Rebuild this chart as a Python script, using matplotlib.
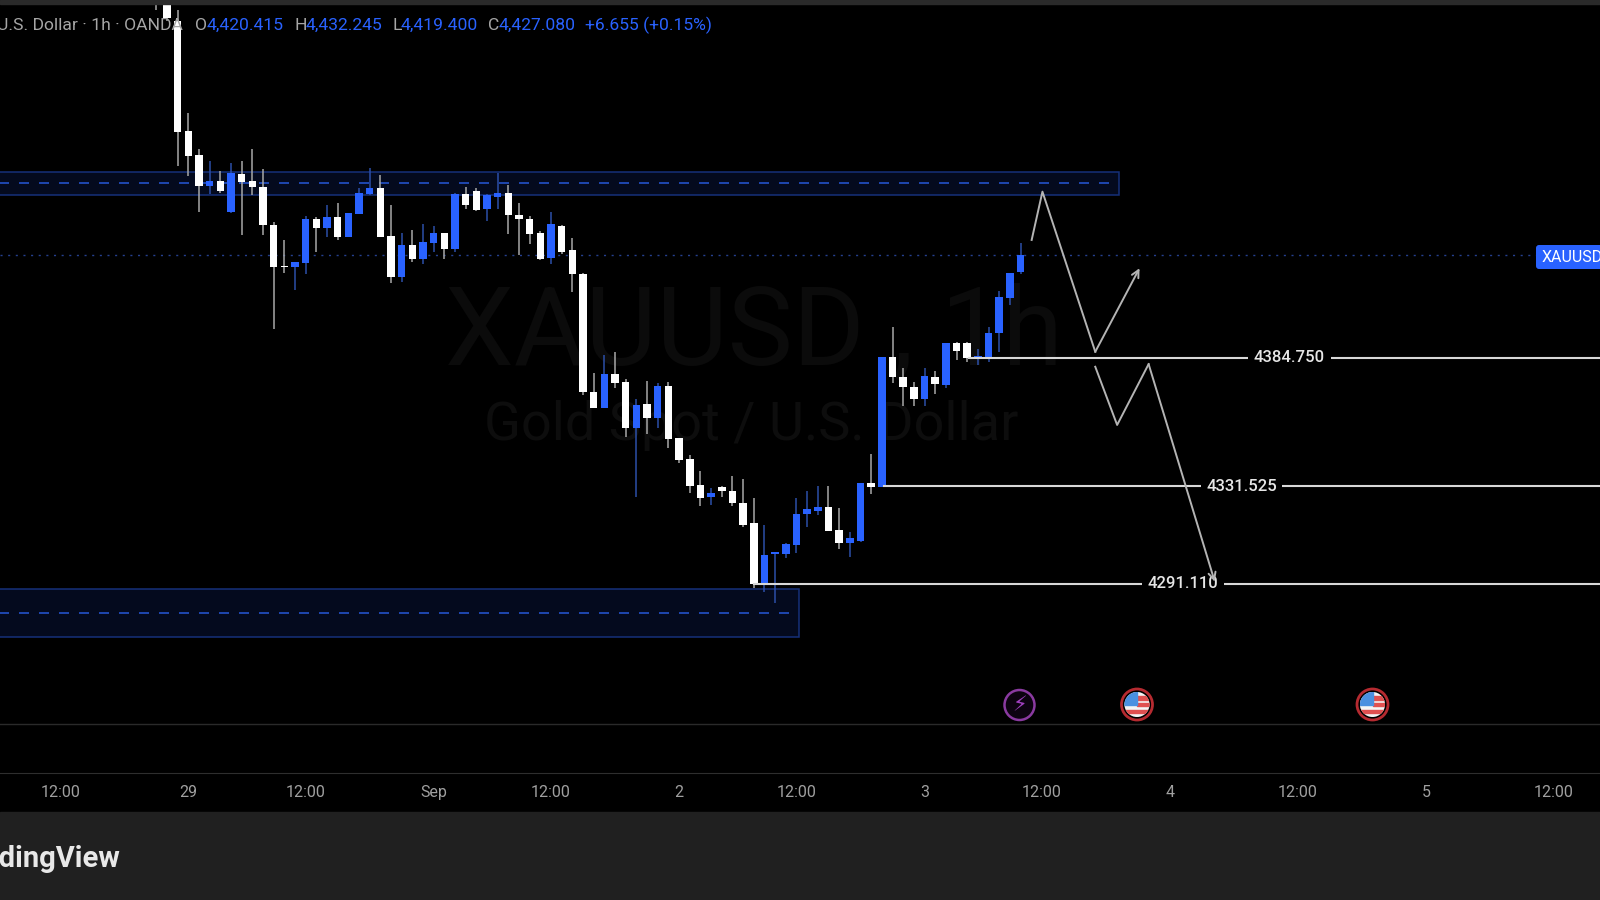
import matplotlib
matplotlib.use('Agg')
import matplotlib.pyplot as plt
from matplotlib.patches import Circle, FancyBboxPatch, Rectangle

plt.rcParams['font.family'] = ['Roboto', 'DejaVu Sans']

# hourly candles, first bar is index -3
opens = [4540.0, 4545.0, 4524.2, 4478.6, 4468.7, 4455.8, 4457.9, 4445.1, 4460.8, 4457.9, 4455.4, 4439.7,
         4422.7, 4422.3, 4424.0, 4442.2, 4438.5, 4443.0, 4434.7, 4444.3, 4452.5, 4455.0, 4435.1, 4418.2,
         4431.4, 4425.6, 4432.3, 4436.4, 4429.8, 4452.5, 4453.8, 4446.3, 4451.3, 4453.0, 4443.8, 4442.2,
         4436.4, 4426.0, 4439.3, 4429.3, 4419.4, 4370.5, 4363.9, 4378.0, 4374.7, 4355.6, 4365.6, 4359.8,
         4373.0, 4351.5, 4342.8, 4332.0, 4327.1, 4331.2, 4329.5, 4324.6, 4316.3, 4291.1, 4303.5, 4303.5,
         4307.2, 4320.0, 4321.3, 4322.9, 4313.4, 4308.0, 4308.9, 4332.9, 4331.2, 4385.0, 4376.8, 4372.6,
         4367.6, 4376.8, 4373.5, 4390.8, 4390.8, 4384.6, 4384.6, 4395.0, 4409.5, 4420.415]
highs = [4545.0, 4548.0, 4528.7, 4486.1, 4471.2, 4466.2, 4462.1, 4465.4, 4466.2, 4471.2, 4462.9, 4440.9,
         4433.5, 4424.4, 4443.4, 4443.0, 4448.0, 4448.8, 4444.7, 4455.0, 4463.3, 4460.4, 4448.0, 4436.4,
         4437.6, 4440.1, 4439.3, 4436.4, 4453.0, 4455.4, 4455.0, 4452.5, 4461.2, 4456.3, 4448.8, 4443.4,
         4437.2, 4445.1, 4439.7, 4434.3, 4419.8, 4378.4, 4385.9, 4387.1, 4375.9, 4367.6, 4375.1, 4374.3,
         4374.7, 4351.5, 4344.5, 4337.8, 4330.8, 4331.6, 4335.8, 4334.5, 4326.7, 4315.5, 4304.3, 4308.0,
         4326.7, 4329.5, 4331.6, 4331.6, 4322.5, 4312.6, 4332.9, 4344.9, 4385.0, 4397.5, 4380.5, 4374.7,
         4380.5, 4379.2, 4390.8, 4391.2, 4391.2, 4388.4, 4397.5, 4412.4, 4419.8, 4432.245]
lows = [4528.7, 4524.2, 4464.1, 4460.0, 4445.1, 4452.5, 4453.0, 4444.8, 4435.6, 4452.1, 4435.6, 4396.6,
        4419.8, 4412.8, 4419.4, 4428.5, 4434.7, 4433.5, 4434.7, 4444.3, 4452.1, 4434.7, 4415.7, 4416.1,
        4424.4, 4423.5, 4428.5, 4425.6, 4428.5, 4446.3, 4445.5, 4441.4, 4446.3, 4436.0, 4427.3, 4431.8,
        4425.2, 4423.5, 4427.7, 4412.0, 4369.3, 4363.9, 4363.9, 4372.2, 4351.9, 4327.1, 4353.2, 4355.6,
        4347.4, 4341.2, 4328.7, 4323.3, 4323.8, 4327.1, 4323.3, 4314.6, 4289.4, 4287.7, 4283.2, 4301.8,
        4303.9, 4314.6, 4319.6, 4313.0, 4305.5, 4302.2, 4308.4, 4328.3, 4331.2, 4374.3, 4364.8, 4364.8,
        4364.8, 4369.7, 4372.2, 4383.8, 4383.0, 4381.7, 4383.0, 4387.1, 4406.6, 4419.4]
closes = [4532.0, 4525.4, 4478.2, 4468.3, 4455.8, 4457.9, 4453.8, 4461.2, 4457.5, 4455.4, 4439.7, 4422.3,
          4422.1, 4424.4, 4442.2, 4438.5, 4443.0, 4434.7, 4444.7, 4453.0, 4455.0, 4434.7, 4418.2, 4431.4,
          4425.6, 4432.7, 4436.4, 4429.8, 4452.5, 4448.0, 4445.9, 4452.1, 4453.0, 4443.8, 4442.2, 4436.0,
          4425.6, 4440.1, 4428.5, 4419.4, 4370.5, 4363.9, 4378.0, 4374.3, 4355.6, 4365.2, 4359.8, 4373.0,
          4351.1, 4342.4, 4331.6, 4326.7, 4328.7, 4329.5, 4324.6, 4315.5, 4291.1, 4303.1, 4304.3, 4307.6,
          4320.0, 4322.1, 4322.9, 4313.0, 4308.0, 4310.1, 4332.9, 4331.2, 4385.0, 4376.8, 4372.6, 4367.6,
          4377.2, 4373.9, 4390.8, 4387.5, 4384.6, 4385.5, 4395.0, 4409.9, 4419.8, 4427.08]
first_bar = -3

tick_pos = [-12, 0, 11, 23, 34, 46, 57, 69, 80, 92, 104, 116, 128]
tick_labels = ['12:00', '29', '12:00', 'Sep', '12:00', '2', '12:00', '3', '12:00', '4', '12:00', '5', '12:00']

levels = [4384.750, 4331.525, 4291.110]
level_starts = [73.2, 65.2, 53.0]
level_label_x = [103.2, 98.7, 93.2]

last_price = 4427.08
top_zone = (4452.1, 4461.6, 4457.1, 87.2)
low_zone = (4269.1, 4289.0, 4279.1, 57.2)

path_up = ([79.04, 80.05, 85.0, 89.15], [4433.5, 4453.5, 4387.2, 4421.8])
path_down = ([85.0, 87.05, 90.0, 96.2], [4381.0, 4356.9, 4382.1, 4292.0])

BLUE = '#2962ff'
fig = plt.figure(figsize=(16, 9), dpi=100, facecolor='black')
ax = fig.add_axes([0, 127.5 / 900, 1, 768.5 / 900], facecolor='black')
ax.set_xlim(-17.64, 132.3)
ax.set_ylim(4213.0, 4531.2)

# zones
for low, high, mid, end in [top_zone, low_zone]:
    ax.add_patch(Rectangle((-20, low), end + 20, high - low, facecolor='#040a1e', edgecolor='#15307a', lw=1.1, zorder=1))
    ax.plot([-20, end], [mid, mid], color='#2452c8', lw=1.2, dashes=(6, 6), zorder=1.5)
ax.axhline(last_price, xmax=0.98, color='#25408f', lw=1, dashes=(1.5, 4), zorder=1.5)

# watermark
ax.text(53, 4394.5, 'XAUUSD , 1h', color='#0b0b0b', fontsize=79, ha='center', va='center', zorder=0.5)
ax.text(52.8, 4356.5, 'Gold Spot / U.S. Dollar', color='#0d0d0d', fontsize=39, ha='center', va='center', zorder=0.5)

# candles
for n in range(len(opens)):
    i = first_bar + n
    up = closes[n] >= opens[n]
    wick = '#2c4fa8' if up else '#a8a8a8'
    body = BLUE if up else 'white'
    ax.vlines(i, lows[n], highs[n], color=wick, lw=1.1, zorder=2)
    bottom = min(opens[n], closes[n])
    ax.bar(i, max(abs(closes[n] - opens[n]), 0.8), bottom=bottom, width=0.7, color=body, zorder=3)

# level lines
for price, start, lx in zip(levels, level_starts, level_label_x):
    ax.plot([start, 140], [price, price], color='#d8d8d8', lw=1.5, zorder=4)
    ax.text(lx, price, f'{price:.3f}', color='#e6e6e6', fontsize=12, fontweight='medium', ha='center', va='center', zorder=6,
            bbox=dict(facecolor='black', edgecolor='none', pad=4))

# projected path
for px, py in [path_up, path_down]:
    ax.plot(px[:-1], py[:-1], color='#b4b4b4', lw=1.4, zorder=7)
    ax.annotate('', xy=(px[-1], py[-1]), xytext=(px[-2], py[-2]), zorder=7,
                arrowprops=dict(arrowstyle='->', color='#b4b4b4', lw=1.4, mutation_scale=13, shrinkA=0, shrinkB=0))

ax.set_xticks(tick_pos)
ax.set_xticklabels(tick_labels)
ax.set_yticks([])
ax.tick_params(axis='x', length=0, pad=9, labelsize=11.5, labelcolor='#a0a0a0')
for side in ['top', 'left', 'right']:
    ax.spines[side].set_visible(False)
ax.spines['bottom'].set_color('#2e2e2e')

# overlay in pixels for the page furniture
over = fig.add_axes([0, 0, 1, 1], facecolor='none')
over.set_xlim(0, 1600)
over.set_ylim(900, 0)
over.axis('off')
over.add_patch(Rectangle((0, 0), 1600, 4, color='#2a2a2a'))
over.add_patch(Rectangle((0, 812), 1600, 88, color='#202020'))
over.plot([0, 1600], [723.7, 723.7], color='#2a2a2a', lw=1)
over.text(120.5, 859, 'TradingView', color='#e8e8e8', fontsize=21, fontweight='bold', ha='right', va='center')

# legend line
grey = '#a6a6a6'
legend_bits = [(-3, 'U.S. Dollar · 1h · OANDA', grey), (195, 'O', grey), (207, '4,420.415', BLUE), (294, 'H', grey),
               (306, '4,432.245', BLUE), (393, 'L', grey), (401, '4,419.400', BLUE), (488, 'C', grey),
               (499, '4,427.080', BLUE), (585, '+6.655 (+0.15%)', BLUE)]
for x, s, c in legend_bits:
    over.text(x, 25, s, color=c, fontsize=12.6, ha='left', va='center', zorder=8)

# price tag
over.add_patch(FancyBboxPatch((1538, 247), 80, 20, boxstyle='round,pad=2,rounding_size=3', facecolor=BLUE, edgecolor='none'))
over.text(1542, 257, 'XAUUSD', color='white', fontsize=11.5, ha='left', va='center', clip_on=True)

# event icons
over.add_patch(Circle((1019.5, 705), 15, facecolor='#0c0310', edgecolor='#8a3aa0', lw=1.8))
over.text(1019.5, 705, '⚡', color='#a040c0', fontsize=15, ha='center', va='center', family=['DejaVu Sans'])
for cx in [1137, 1372.5]:
    over.add_patch(Circle((cx, 704.5), 15.5, facecolor='black', edgecolor='#b52a30', lw=2))
    clip = Circle((cx, 704.5), 12.5, transform=over.transData)
    parts = [Rectangle((cx - 13, 691), 26, 26, color='#f4f4f4'),
             Rectangle((cx, 696), 13, 3.5, color='#e05050'),
             Rectangle((cx, 702.5), 13, 3.5, color='#e05050'),
             Rectangle((cx - 13, 709.5), 26, 3.5, color='#e05050'),
             Rectangle((cx - 13, 691), 13, 14, color='#4a90e0')]
    for part in parts:
        part.set_clip_path(clip)
        over.add_patch(part)

fig.savefig('out.png', dpi=100, facecolor='black')
